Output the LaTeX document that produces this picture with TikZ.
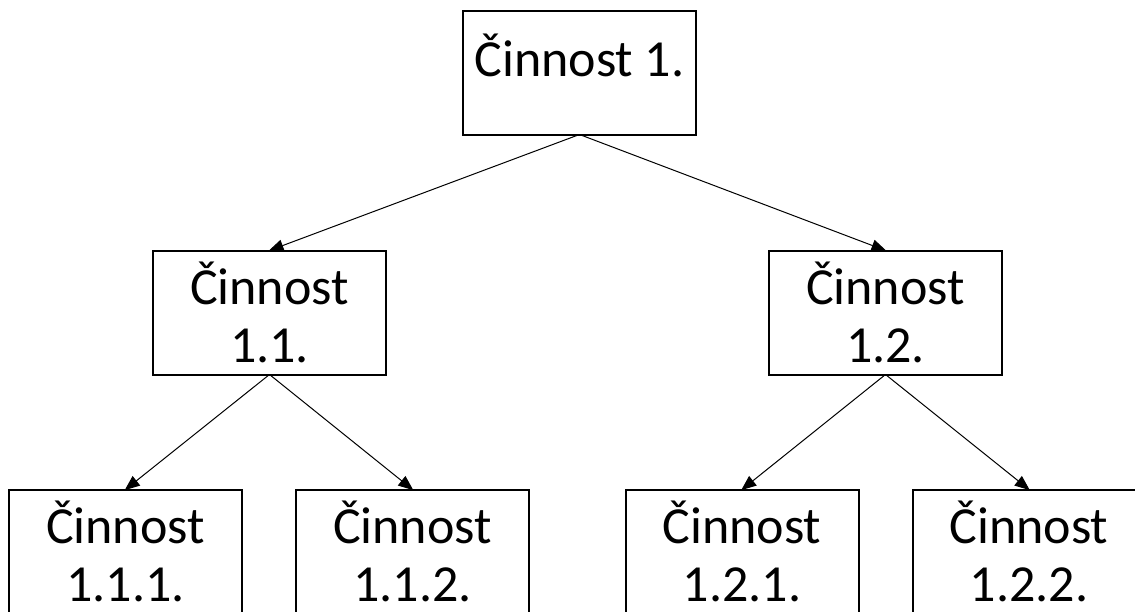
\documentclass[tikz,border=0pt]{standalone}
\usepackage{fontspec}
\setmainfont{Carlito}
\usepackage{tikz}
\usetikzlibrary{arrows.meta,positioning}

\begin{document}
\begin{tikzpicture}[x=1pt,y=1pt,>={Triangle[length=15pt,width=12pt]}]
\tikzset{
 box/.style={draw=black,line width=2pt,outer sep=0pt,minimum width=233pt,minimum height=124pt,
  align=center,font=\fontsize{52}{58}\selectfont},
 arrow/.style={->,line width=1pt,draw=black,shorten >=-1pt}
}
\useasboundingbox (0,0) rectangle (1135,-611);
\clip (0,0) rectangle (1135,-611);
\node[box,text height=40pt,text depth=33pt] (c1) at (579.5,-72.5) {Činnost 1.};
\node[box,below=116pt of c1,xshift=-310pt] (c11) {Činnost\\1.1.};
\node[box,below=116pt of c1,xshift=306pt] (c12) {Činnost\\1.2.};
\node[box,below=115pt of c11,xshift=-144pt] (c111) {Činnost\\1.1.1.};
\node[box,right=54pt of c111] (c112) {Činnost\\1.1.2.};
\node[box,below=115pt of c12,xshift=-143.5pt] (c121) {Činnost\\1.2.1.};
\node[box,right=54pt of c121] (c122) {Činnost\\1.2.2.};
\draw[arrow] (c1.south) -- (c11.north);
\draw[arrow] (c1.south) -- (c12.north);
\draw[arrow] (c11.south) -- (c111.north);
\draw[arrow] (c11.south) -- (c112.north);
\draw[arrow] (c12.south) -- (c121.north);
\draw[arrow] (c12.south) -- (c122.north);
\end{tikzpicture}
\end{document}
